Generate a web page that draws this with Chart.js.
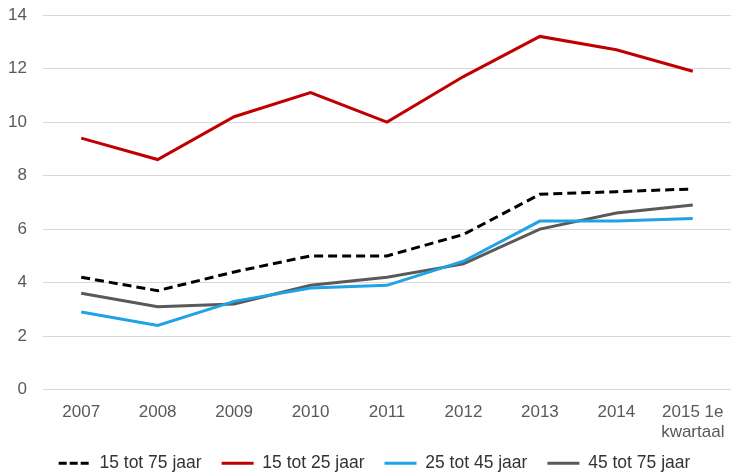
<!DOCTYPE html>
<html>
<head>
<meta charset="utf-8">
<script src="https://cdn.jsdelivr.net/npm/chart.js@4"></script>
<style>
  html, body { margin: 0; padding: 0; background: #fff; }
  #wrap { width: 731px; height: 473px; position: relative; }
</style>
</head>
<body>
<div id="wrap"><canvas id="chart"></canvas></div>
<script>
// categorieen en waarden
const years = ['2007', '2008', '2009', '2010', '2011', '2012', '2013', '2014', ['2015 1e', 'kwartaal']];
const yTicks = [0, 2, 4, 6, 8, 10, 12, 14];
const tot15_75 = [4.2, 3.7, 4.4, 5.0, 5.0, 5.8, 7.3, 7.4, 7.5];
const tot15_25 = [9.4, 8.6, 10.2, 11.1, 10.0, 11.7, 13.2, 12.7, 11.9];
const tot25_45 = [2.9, 2.4, 3.3, 3.8, 3.9, 4.8, 6.3, 6.3, 6.4];
const tot45_75 = [3.6, 3.1, 3.2, 3.9, 4.2, 4.7, 6.0, 6.6, 6.9];

const FONT = 'Liberation Sans, Arial, sans-serif';

function lineSet(label, data, color, dash) {
  return {
    label: label,
    data: data,
    borderColor: color,
    backgroundColor: color,
    borderWidth: 3,
    borderDash: dash || [],
    pointRadius: 0,
    pointHoverRadius: 0,
    tension: 0,
    fill: false
  };
}

// legenda iets dichter bij de as tekenen
const legendShift = {
  id: 'legendShift',
  afterInit(chart) {
    const lg = chart.legend;
    const draw = lg.draw;
    lg.draw = function() {
      this.ctx.save();
      this.ctx.translate(5, -12);
      draw.call(this);
      this.ctx.restore();
    };
  }
};

new Chart(document.getElementById('chart').getContext('2d'), {
  type: 'line',
  data: {
    labels: years,
    datasets: [
      lineSet('15 tot 75 jaar', tot15_75, '#000000', [9, 5]),
      lineSet('15 tot 25 jaar', tot15_25, '#C00000'),
      lineSet('25 tot 45 jaar', tot25_45, '#1FA2E6'),
      lineSet('45 tot 75 jaar', tot45_75, '#595959')
    ]
  },
  plugins: [legendShift],
  options: {
    responsive: true,
    maintainAspectRatio: false,
    animation: false,
    layout: { padding: { left: 8, right: 0, top: 15, bottom: -21 } },
    plugins: {
      legend: {
        position: 'bottom',
        labels: {
          usePointStyle: true,
          pointStyle: 'line',
          pointStyleWidth: 32,
          padding: 20,
          color: '#333',
          font: { family: FONT, size: 17.5 },
          // lijnstijl van de dataset gebruiken (ook de streepjes)
          generateLabels: chart => Chart.defaults.plugins.legend.labels.generateLabels(chart).map(item => {
            const ds = chart.data.datasets[item.datasetIndex];
            item.lineDash = ds.borderDash.length ? [8, 3] : [];
            item.lineWidth = 3;
            item.strokeStyle = ds.borderColor;
            return item;
          })
        }
      },
      tooltip: { enabled: false }
    },
    scales: {
      x: {
        offset: true,
        grid: { display: false },
        border: { display: false },
        afterFit: axis => { axis.paddingLeft = 0; axis.paddingRight = 0; },
        ticks: {
          color: '#595959',
          maxRotation: 0,
          autoSkip: false,
          padding: 4,
          font: { family: FONT, size: 17 }
        }
      },
      y: {
        min: 0,
        max: 14,
        afterBuildTicks: axis => { axis.ticks = yTicks.map(v => ({ value: v })); },
        afterFit: axis => { axis.width = 35; axis.paddingTop = 0; axis.paddingBottom = 0; },
        grid: { color: '#d9d9d9', lineWidth: 1, drawTicks: false },
        border: { display: false },
        ticks: {
          color: '#595959',
          padding: 16,
          font: { family: FONT, size: 17 }
        }
      }
    }
  }
});
</script>
</body>
</html>
